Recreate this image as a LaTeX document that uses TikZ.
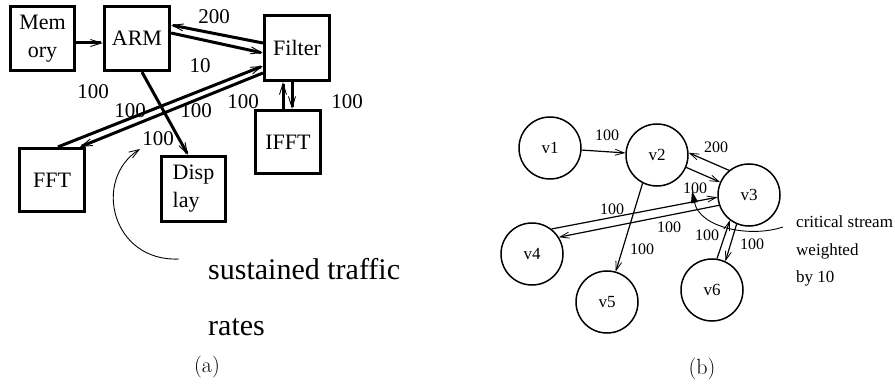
\documentclass[tikz,border=0pt]{standalone}
\usepackage{fontspec}
\newfontfamily\tms{Liberation Serif}
\usetikzlibrary{arrows.meta,calc}
\begin{document}
\begin{tikzpicture}[x=1pt,y=-1pt,
  blk/.style={draw,line width=3.2pt,inner sep=0pt,align=center,
    font=\tms\fontsize{22}{28}\selectfont},
  fatarr/.style={line width=3pt,-{Straight Barb[length=11pt,width=7pt,line width=0.9pt]}},
  biglbl/.style={inner sep=0pt,font=\tms\fontsize{21}{24}\selectfont},
  vtx/.style={draw,circle,line width=1.5pt,minimum size=62pt,inner sep=0pt,
    font=\tms\fontsize{17}{20}\selectfont},
  tarr/.style={line width=1.2pt,-{Straight Barb[length=9pt,width=6pt,line width=0.8pt]}},
  smalllbl/.style={inner sep=0pt,font=\tms\fontsize{16}{19}\selectfont},
  note/.style={inner sep=0pt,anchor=base west},
  caption/.style={inner sep=0pt,font=\fontsize{22}{26}\selectfont}]
\useasboundingbox (0,0) rectangle (895,385);

% ---------- (a) application blocks ----------
\node[blk,minimum width=64pt,minimum height=64pt] (mem) at (42.5,38.5) {Mem\\ory};
\node[blk,minimum width=65pt,minimum height=64pt] (arm) at (137,38.5) {ARM};
\node[blk,minimum width=65pt,minimum height=65pt] (filter) at (297,48) {Filter};
\node[blk,minimum width=65pt,minimum height=63pt] (ifft) at (288,142) {IFFT};
\node[blk,minimum width=65pt,minimum height=63pt] (fft) at (52,180) {\raisebox{-5pt}{FFT}};
\node[blk,minimum width=64pt,minimum height=65pt,align=left] (disp) at (193.5,189) {Disp\\lay};

\draw[fatarr] ($(mem.east)+(0,4.5)$) -- ($(arm.west)+(0,4.5)$);
\draw[fatarr] ($(filter.west)+(0,-5)$) -- ($(arm.east)+(0,-13.5)$);
\draw[fatarr] ($(arm.east)+(0,-5.5)$) -- ($(filter.west)+(0,5)$);
\draw[fatarr] ($(fft.north)+(6,0)$) -- ($(filter.west)+(0,18)$);
\draw[fatarr] ($(filter.west)+(0,25)$) -- ($(fft.north)+(28,0)$);
\draw[fatarr] ($(arm.south)+(5,0)$) -- ($(disp.north)+(-5.5,0)$);
\draw[fatarr] ($(ifft.north)+(-5,0)$) -- ($(filter.south)+(-14,0)$);
\draw[fatarr] ($(filter.south)+(-5,0)$) -- ($(ifft.north)+(4,0)$);

\node[biglbl] (l200) at (214,17) {200};
\node[biglbl] (l10) at (200,66) {10};
\node[biglbl] (lfa) at (93,92) {100};
\node[biglbl] (lfb) at (130,111) {100};
\node[biglbl] (lfc) at (196,111) {100};
\node[biglbl] (ldisp) at (158,139) {100};
\node[biglbl] (lia) at (243,102) {100};
\node[biglbl] (lib) at (347,102) {100};

\coordinate (sA) at (179,259);
\coordinate (sB) at (140,149);
\draw[line width=0.9pt,-{Straight Barb[length=10pt,width=7pt,line width=0.8pt]}]
  (sA) .. controls (112,262) and (92,180) .. (sB);
\node[note,font=\tms\fontsize{30}{36}\selectfont] (sust1) at (208,279) {sustained traffic};
\node[note,font=\tms\fontsize{30}{36}\selectfont] (sust2) at (208,335) {rates};

\node[caption] (capa) at (207,367) {(a)};

% ---------- (b) weighted graph ----------
\node[vtx] (v1) at (550,148) {v1};
\node[vtx] (v2) at (657,155) {v2};
\node[vtx] (v3) at (749,195) {v3};
\node[vtx] (v4) at (532,254) {v4};
\node[vtx] (v5) at (607,302) {v5};
\node[vtx] (v6) at (712,290) {v6};

\draw[tarr] (v1) -- (v2);
\draw[tarr] (v3.129) -- (v2.4);
\draw[tarr] (v2.-23) -- (v3.156);
\draw[tarr] (v4.52) -- (v3.184);
\draw[tarr] (v3.199) -- (v4.32);
\draw[tarr] (v2.243) -- (v5.74);
\draw[tarr] (v6.81) -- (v3.233);
\draw[tarr] (v3.247) -- (v6.65);

\node[smalllbl] (b12) at (607,135) {100};
\node[smalllbl] (b32) at (716,147) {200};
\node[smalllbl] (bcr) at (695,188) {100};
\node[smalllbl] (b43) at (612,209) {100};
\node[smalllbl] (b34) at (669,227) {100};
\node[smalllbl] (b25) at (642,249) {100};
\node[smalllbl] (b63) at (707,235) {100};
\node[smalllbl] (b36) at (752,244) {100};

\coordinate (cA) at (783,227);
\coordinate (cB) at (692,191);
\draw[line width=0.9pt,-{Triangle[length=12pt,width=7pt]}]
  (cA) .. controls (750,238) and (700,228) .. (cB);
\node[note,font=\tms\fontsize{17}{20}\selectfont] (crit1) at (796,228) {critical stream};
\node[note,font=\tms\fontsize{17}{20}\selectfont] (crit2) at (796,255) {weighted};
\node[note,font=\tms\fontsize{17}{20}\selectfont] (crit3) at (796,282) {by 10};

\node[caption] (capb) at (702,369) {(b)};
\end{tikzpicture}
\end{document}
